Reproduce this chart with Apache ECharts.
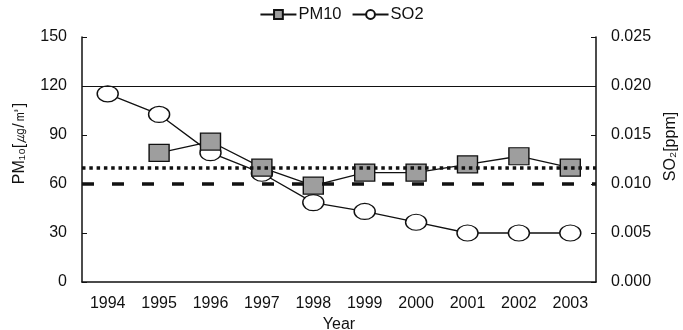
<!DOCTYPE html>
<html>
<head>
<meta charset="utf-8">
<script src="https://cdn.jsdelivr.net/npm/echarts@6/dist/echarts.min.js"></script>
<style>
  html, body { margin: 0; padding: 0; background: #fff; }
  #chart { width: 683px; height: 330px; }
</style>
</head>
<body>
<div id="chart"></div>
<script>
// Annual averages, 1994–2003
const years = ['1994', '1995', '1996', '1997', '1998', '1999', '2000', '2001', '2002', '2003'];
const pm10 = [null, 79, 86, 70, 59, 67, 67, 72, 77, 70];              // ㎍/㎥
const so2 = [0.0192, 0.0171, 0.0132, 0.0111, 0.0081, 0.0072, 0.0061, 0.0050, 0.0050, 0.0050]; // ppm

// Reference levels on the PM10 scale
const solidLevel = 120;
const dottedLevel = 70;
const dashedLevel = 60;

const leftTicks = [0, 30, 60, 90, 120, 150];
const rightTicks = [0, 0.005, 0.010, 0.015, 0.020, 0.025];

const FONT = '"Liberation Sans", Arial, sans-serif';
const axisText = { color: '#111', fontFamily: FONT, fontSize: 16 };

const chart = echarts.init(document.getElementById('chart'), null, { renderer: 'canvas' });

chart.setOption({
  animation: false,
  backgroundColor: '#fff',
  textStyle: { fontFamily: FONT },
  legend: {
    top: 1,
    left: 'center',
    itemWidth: 36,
    itemHeight: 11,
    itemGap: 10,
    textStyle: { color: '#111', fontFamily: FONT, fontSize: 16.5, padding: [0, 0, 0, -3] },
    data: ['PM10', 'SO2']
  },
  grid: { left: 82, right: 87, top: 37, bottom: 48, containLabel: false, outerBoundsMode: 'none' },
  xAxis: {
    type: 'category',
    data: years,
    boundaryGap: true,
    name: 'Year',
    nameLocation: 'middle',
    nameGap: 28,
    nameTextStyle: { color: '#111', fontFamily: FONT, fontSize: 16 },
    axisLine: { lineStyle: { color: '#111', width: 1.5 } },
    axisTick: { inside: true, length: 4, lineStyle: { color: '#111' } },
    axisLabel: Object.assign({ margin: 14 }, axisText),
    splitLine: { show: false }
  },
  yAxis: [
    {
      type: 'value',
      min: leftTicks[0],
      max: leftTicks[leftTicks.length - 1],
      interval: leftTicks[1] - leftTicks[0],
      position: 'left',
      name: 'PM₁₀[㎍/㎥]',
      nameLocation: 'middle',
      nameRotate: 90,
      nameGap: 54,
      nameTextStyle: { color: '#111', fontFamily: FONT, fontSize: 16, padding: [0, 0, 0, 32] },
      axisLine: { show: true, lineStyle: { color: '#111', width: 1.5 } },
      axisTick: { show: true, inside: true, length: 5, lineStyle: { color: '#111' } },
      axisLabel: Object.assign({ margin: 15 }, axisText),
      splitLine: { show: false }
    },
    {
      type: 'value',
      min: rightTicks[0],
      max: rightTicks[rightTicks.length - 1],
      interval: rightTicks[1] - rightTicks[0],
      position: 'right',
      name: 'SO₂[ppm]',
      nameLocation: 'middle',
      nameRotate: 90,
      nameGap: 67,
      nameTextStyle: { color: '#111', fontFamily: FONT, fontSize: 16, padding: [0, 0, 0, 26] },
      axisLine: { show: true, lineStyle: { color: '#111', width: 1.5 } },
      axisTick: { show: true, inside: true, length: 5, lineStyle: { color: '#111' } },
      axisLabel: Object.assign({ margin: 15, formatter: v => v.toFixed(3) }, axisText),
      splitLine: { show: false }
    }
  ],
  series: [
    {
      name: 'PM10',
      type: 'line',
      yAxisIndex: 0,
      data: pm10,
      connectNulls: false,
      symbol: 'rect',
      symbolSize: [20, 17],
      z: 4,
      lineStyle: { color: '#111', width: 1.3 },
      itemStyle: { color: '#9e9e9e', borderColor: '#111', borderWidth: 1.3 },
      markLine: {
        silent: true,
        symbol: 'none',
        label: { show: false },
        data: [
          { yAxis: solidLevel, lineStyle: { color: '#111', width: 1.2, type: 'solid' } },
          { yAxis: dottedLevel, lineStyle: { color: '#111', width: 3.5, type: [3.5, 3.8] } },
          { yAxis: dashedLevel, lineStyle: { color: '#111', width: 3.5, type: [12, 18] } }
        ]
      }
    },
    {
      name: 'SO2',
      type: 'line',
      yAxisIndex: 1,
      data: so2,
      symbol: 'circle',
      symbolSize: [21, 16],
      z: 3,
      lineStyle: { color: '#111', width: 1.3 },
      itemStyle: { color: '#fff', borderColor: '#111', borderWidth: 1.3 }
    }
  ]
});
</script>
</body>
</html>
